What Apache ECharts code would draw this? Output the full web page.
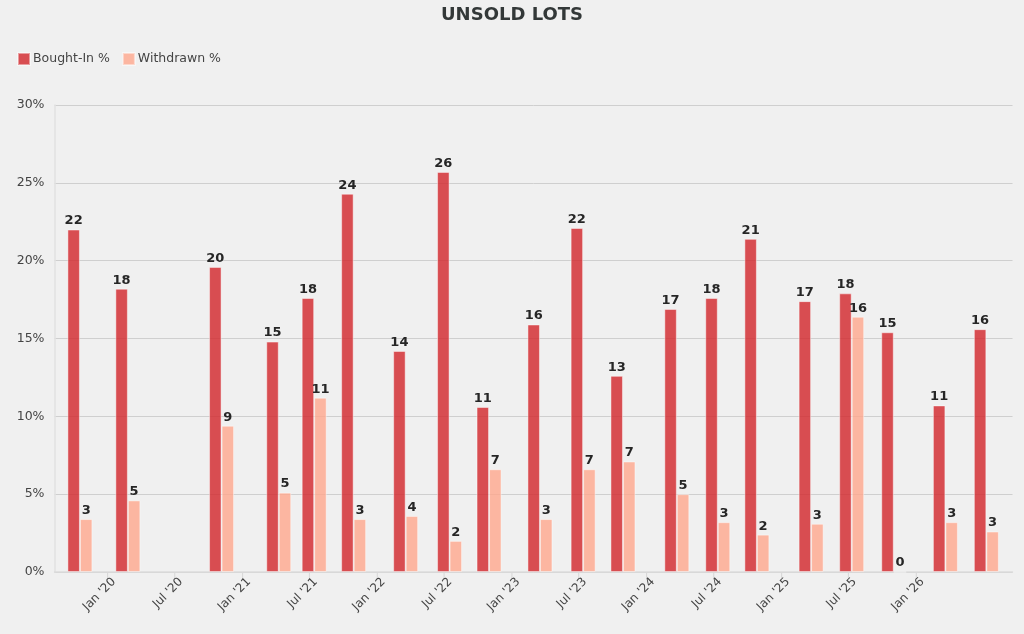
<!DOCTYPE html>
<html>
<head>
<meta charset="utf-8">
<script src="https://cdn.jsdelivr.net/npm/echarts@6/dist/echarts.min.js"></script>
<style>
  html, body { margin: 0; padding: 0; background: #f0f0f0; }
  #chart { width: 1024px; height: 634px; }
</style>
</head>
<body>
<div id="chart"></div>
<script>
const saleDates = [
  '2019-10-01', '2020-02-08', '2020-10-19', '2021-03-23', '2021-06-27',
  '2021-10-12', '2022-03-02', '2022-06-29', '2022-10-14', '2023-03-01',
  '2023-06-26', '2023-10-12', '2024-03-06', '2024-06-25', '2024-10-09',
  '2025-03-05', '2025-06-23', '2025-10-15', '2026-03-04', '2026-06-23'
]
const boughtIn = [
  22.0, 18.2, 19.6, 14.8, 17.6, 24.3, 14.2, 25.7, 10.6, 15.9,
  22.1, 12.6, 16.9, 17.6, 21.4, 17.4, 17.9, 15.4, 10.7, 15.6
]
const withdrawn = [
  3.4, 4.6, 9.4, 5.1, 11.2, 3.4, 3.6, 2.0, 6.6, 3.4,
  6.6, 7.1, 5.0, 3.2, 2.4, 3.1, 16.4, 0, 3.2, 2.6
]
const tickDates = [
  '2020-01-01', '2020-07-01', '2021-01-01', '2021-07-01', '2022-01-01',
  '2022-07-01', '2023-01-01', '2023-07-01', '2024-01-01', '2024-07-01',
  '2025-01-01', '2025-07-01', '2026-01-01'
]
const yTicks = [0, 5, 10, 15, 20, 25, 30]

const months = ['Jan', 'Feb', 'Mar', 'Apr', 'May', 'Jun', 'Jul', 'Aug', 'Sep', 'Oct', 'Nov', 'Dec']
const font = 'DejaVu Sans'
const halfYear = 182.5 * 24 * 3600 * 1000
const tickTimes = tickDates.map(d => +new Date(d))

const chart = echarts.init(document.getElementById('chart'))

const labelStyle = {
  show: true,
  position: 'top',
  distance: 2,
  fontFamily: font,
  fontSize: 13,
  fontWeight: 'bold',
  color: '#262626',
  formatter: p => Math.round(p.value[1])
}

const option = {
  backgroundColor: '#f0f0f0',
  animation: false,
  title: {
    text: 'UNSOLD LOTS',
    left: 'center',
    top: 1,
    textStyle: { fontFamily: font, fontSize: 18, fontWeight: 'bold', color: '#333838' }
  },
  legend: {
    left: 17,
    top: 52,
    padding: 0,
    icon: 'rect',
    itemWidth: 12,
    itemHeight: 12,
    itemGap: 12,
    textStyle: { fontFamily: font, fontSize: 12.5, color: '#444', padding: [0, 0, 0, -2] }
  },
  grid: { left: 54.5, right: 11.5, top: 105, bottom: 62 },
  xAxis: {
    type: 'time',
    // bars widen the extent by half a group each side
    min: '2019-08-27',
    max: '2026-07-30',
    minInterval: halfYear,
    maxInterval: halfYear,
    axisLine: { show: true, lineStyle: { color: '#dcdcdc', width: 1.5 } },
    axisTick: { show: false },
    axisLabel: {
      rotate: 45,
      margin: 8,
      fontFamily: font,
      fontSize: 12,
      color: '#444',
      hideOverlap: false,
      formatter: v => tickTimes.includes(v) || tickTimes.includes(+v)
        ? months[new Date(v).getMonth()] + " '" + String(new Date(v).getFullYear()).slice(2)
        : ''
    },
    splitLine: { show: false }
  },
  yAxis: {
    type: 'value',
    min: 0,
    max: 30,
    interval: 5,
    axisLine: { show: true, lineStyle: { color: '#e2e2e2', width: 1.5 } },
    axisTick: { show: false },
    axisLabel: {
      margin: 10,
      fontFamily: font,
      fontSize: 12.5,
      color: '#444',
      formatter: v => yTicks.includes(v) ? v + '%' : ''
    },
    splitLine: { lineStyle: { color: '#cfcfcf', width: 1 } }
  },
  series: [
    {
      name: 'Bought-In %',
      type: 'bar',
      barWidth: 12.5,
      barGap: '0%',
      data: saleDates.map((d, i) => [d, boughtIn[i]]),
      itemStyle: {
        color: 'rgba(210,40,45,0.82)',
        borderColor: 'rgba(255,255,255,0.45)',
        borderWidth: 1
      },
      label: labelStyle,
      // x-axis tick marks, only at the labelled dates
      markPoint: {
        silent: true,
        symbol: 'rect',
        symbolSize: [1, 5],
        symbolOffset: [0, 3.5],
        itemStyle: { color: '#d6d6d6' },
        label: { show: false },
        data: tickDates.map(d => ({ coord: [d, 0] }))
      }
    },
    {
      name: 'Withdrawn %',
      type: 'bar',
      barWidth: 12.5,
      barGap: '0%',
      data: saleDates.map((d, i) => [d, withdrawn[i]]),
      itemStyle: {
        color: 'rgba(255,165,138,0.78)',
        borderColor: 'rgba(255,255,255,0.45)',
        borderWidth: 1
      },
      label: labelStyle
    }
  ]
}

chart.setOption(option)
</script>
</body>
</html>
